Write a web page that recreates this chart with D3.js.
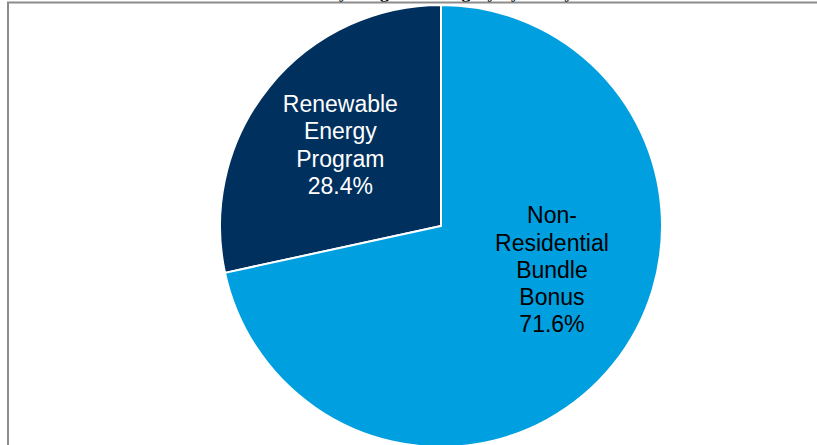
<!DOCTYPE html>
<html><head><meta charset="utf-8">
<script src="https://cdn.jsdelivr.net/npm/d3@7"></script>
<style>body{margin:0;background:#fff}svg{display:block}</style>
</head><body>
<svg id="c" width="817" height="445"></svg>
<script>
const categories = ["Renewable Energy Program", "Non-Residential Bundle Bonus"];
const values = [28.4, 71.6];
const labelLines = [["Renewable","Energy","Program","28.4%"],["Non-","Residential","Bundle","Bonus","71.6%"]];
const colors = ["#00305E", "#009FE0"];
const textColors = ["#ffffff", "#000000"];

const svg = d3.select("#c");
// clipped title (only descenders visible above the frame)
svg.append("text").attr("x", 410).attr("y", -2).attr("text-anchor", "middle")
  .attr("font-family", "Liberation Serif, serif").attr("font-weight", "bold").attr("font-size", 18)
  .attr("fill", "#000").text("Incentives by Program Category by Utility");
// frame
svg.append("rect").attr("x", 8).attr("y", 2.5).attr("width", 830).attr("height", 460)
  .attr("fill", "none").attr("stroke", "#8c8c8c").attr("stroke-width", 2);

const cx = 441, cy = 226, r = 221;
const data = categories.map((c, i) => ({c, v: values[i], i}));
const start = -values[0] / 100 * 2 * Math.PI;
const pie = d3.pie().value(d => d.v).sort(null).startAngle(start).endAngle(start + 2 * Math.PI);
const arcs = pie(data);
const arc = d3.arc().innerRadius(0).outerRadius(r);
const g = svg.append("g").attr("transform", `translate(${cx},${cy})`);
g.selectAll("path").data(arcs).join("path")
  .attr("d", arc).attr("fill", d => colors[d.data.i])
  .attr("stroke", "#fff").attr("stroke-width", 2).attr("stroke-linejoin", "round");

// label placement: radius ratio and angle shift (degrees) relative to slice mid-angle
const labelR = [0.585, 0.54];
const labelShift = [0, -17.3];
const lineH = 27.3;
arcs.forEach((a, k) => {
  const mid = (a.startAngle + a.endAngle) / 2 + labelShift[k] * Math.PI / 180;
  const lx = Math.sin(mid) * r * labelR[k];
  const ly = -Math.cos(mid) * r * labelR[k];
  const lines = labelLines[k];
  const t = g.append("text").attr("text-anchor", "middle")
    .attr("font-family", "Liberation Sans, Arial, sans-serif").attr("font-size", 23)
    .attr("fill", textColors[k]);
  lines.forEach((ln, j) => {
    t.append("tspan").attr("x", lx).attr("y", ly + (j - (lines.length - 1) / 2) * lineH + 8).text(ln);
  });
});
</script>
</body></html>
